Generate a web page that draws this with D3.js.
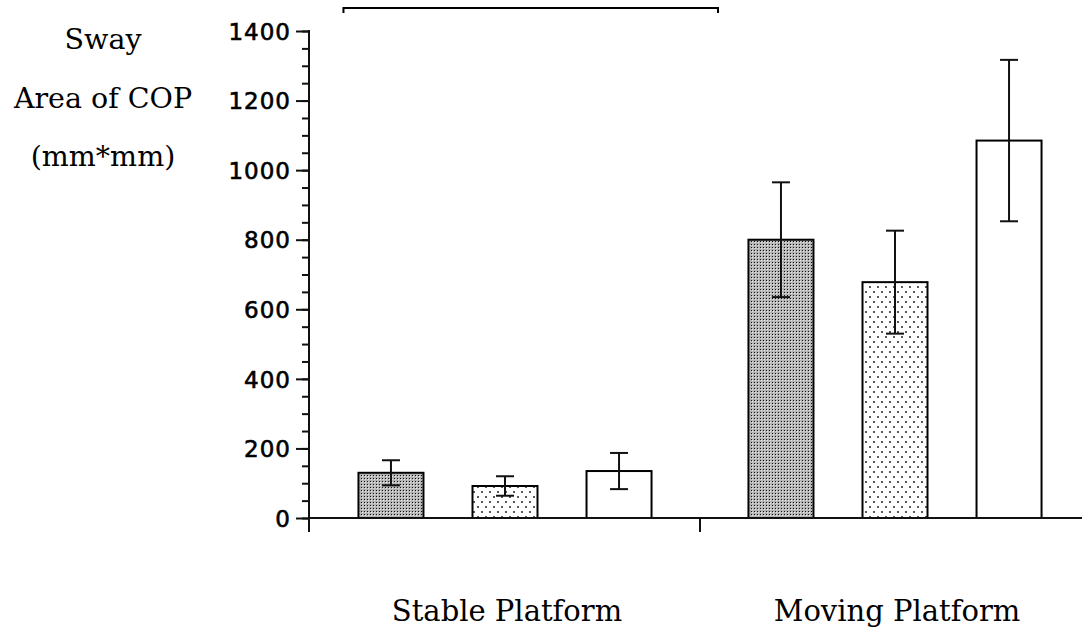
<!DOCTYPE html>
<html>
<head>
<meta charset="utf-8">
<script src="https://cdn.jsdelivr.net/npm/d3@7"></script>
<style>
  html, body { margin: 0; padding: 0; background: #fff; }
  svg { display: block; }
  .ylab { font-family: "DejaVu Serif", serif; font-size: 28.5px; fill: #000; }
  .glab { font-family: "DejaVu Serif", serif; font-size: 29px; fill: #000; }
  .tick text { font-family: "DejaVu Sans", sans-serif; font-size: 23px; fill: #000; stroke: #000; stroke-width: 0.6px; letter-spacing: 1px; }
</style>
</head>
<body>
<svg id="chart" width="1082" height="630"></svg>
<script>
// Sway area of centre of pressure, by platform condition
const groups = ["Stable Platform", "Moving Platform"];
const series = ["A", "B", "C"];
const stableMeans = [130, 92, 135];
const stableErrors = [36, 28, 52];
const movingMeans = [800, 678, 1085];
const movingErrors = [165, 148, 232];
const majorTicks = [0, 200, 400, 600, 800, 1000, 1200, 1400];
const minorTicks = d3.range(0, 1401, 50);
const yTitle = ["Sway", "Area of COP", "(mm*mm)"];

const rows = [];
groups.forEach((g, gi) => {
  const means = gi === 0 ? stableMeans : movingMeans;
  const errs = gi === 0 ? stableErrors : movingErrors;
  series.forEach((s, si) => rows.push({ group: g, series: s, mean: means[si], err: errs[si] }));
});

const svg = d3.select("#chart");
const y = d3.scaleLinear().domain([0, 1400]).range([518, 31]);
const x0 = d3.scaleBand().domain(groups).range([310, 1090]);
const x1 = d3.scaleBand().domain(series).range([0, x0.bandwidth()])
  .paddingInner(0.43).paddingOuter(0.425);
const axisX = 309;

// fill patterns
const defs = svg.append("defs");
const pA = defs.append("pattern").attr("id", "patA").attr("patternUnits", "userSpaceOnUse")
  .attr("width", 3).attr("height", 3);
pA.append("rect").attr("width", 3).attr("height", 3).attr("fill", "#fff");
pA.append("rect").attr("x", 0).attr("y", 0).attr("width", 3).attr("height", 1).attr("fill", "#b5b5b5");
pA.append("rect").attr("x", 0).attr("y", 0).attr("width", 1).attr("height", 3).attr("fill", "#b5b5b5");
pA.append("rect").attr("x", 1).attr("y", 1).attr("width", 1.3).attr("height", 1.3).attr("fill", "#111");

const pB = defs.append("pattern").attr("id", "patB").attr("patternUnits", "userSpaceOnUse")
  .attr("width", 8).attr("height", 10);
pB.append("rect").attr("width", 8).attr("height", 10).attr("fill", "#fff");
pB.append("circle").attr("cx", 2).attr("cy", 2).attr("r", 1).attr("fill", "#222");
pB.append("circle").attr("cx", 6).attr("cy", 7).attr("r", 1).attr("fill", "#222");

const fills = { A: "url(#patA)", B: "url(#patB)", C: "#fff" };

// bars
svg.append("g").selectAll("rect").data(rows).join("rect")
  .attr("x", d => x0(d.group) + x1(d.series))
  .attr("y", d => y(d.mean))
  .attr("width", x1.bandwidth())
  .attr("height", d => y(0) - y(d.mean))
  .attr("fill", d => fills[d.series])
  .attr("stroke", "#000").attr("stroke-width", 2);

// error bars
const eb = svg.append("g").attr("stroke", "#111").attr("stroke-width", 2);
const cx = d => x0(d.group) + x1(d.series) + x1.bandwidth() / 2;
const capHalf = 9;
eb.selectAll("line.v").data(rows).join("line").attr("class", "v")
  .attr("x1", cx).attr("x2", cx)
  .attr("y1", d => y(d.mean + d.err)).attr("y2", d => y(d.mean - d.err));
eb.selectAll("line.t").data(rows).join("line").attr("class", "t")
  .attr("x1", d => cx(d) - capHalf).attr("x2", d => cx(d) + capHalf)
  .attr("y1", d => y(d.mean + d.err)).attr("y2", d => y(d.mean + d.err));
eb.selectAll("line.b").data(rows).join("line").attr("class", "b")
  .attr("x1", d => cx(d) - capHalf).attr("x2", d => cx(d) + capHalf)
  .attr("y1", d => y(d.mean - d.err)).attr("y2", d => y(d.mean - d.err));

// y axis: minor then major ticks
const gMinor = svg.append("g").attr("transform", `translate(${axisX},0)`)
  .call(d3.axisLeft(y).tickValues(minorTicks).tickSize(7).tickFormat(""));
gMinor.select(".domain").remove();
gMinor.selectAll(".tick line").attr("stroke", "#111").attr("stroke-width", 2);

const gMajor = svg.append("g").attr("transform", `translate(${axisX},0)`)
  .call(d3.axisLeft(y).tickValues(majorTicks).tickSize(13).tickPadding(5).tickFormat(d3.format("d")));
gMajor.select(".domain").remove();
gMajor.selectAll(".tick line").attr("stroke", "#111").attr("stroke-width", 2);
gMajor.selectAll(".tick text").attr("dy", "0.36em");

// axis lines
const axes = svg.append("g").attr("stroke", "#111").attr("stroke-width", 2);
axes.append("line").attr("x1", axisX).attr("x2", axisX).attr("y1", y(1400) - 1).attr("y2", y(0) + 14);
axes.append("line").attr("x1", axisX).attr("x2", 1082).attr("y1", y(0)).attr("y2", y(0));
// group separator tick
axes.append("line")
  .attr("x1", x0(groups[1])).attr("x2", x0(groups[1]))
  .attr("y1", y(0)).attr("y2", y(0) + 14);

// bracket across the top
const bx1 = x0(groups[0]) + x1(series[0]) - 15;
const bx2 = x0(groups[1]) + 18;
svg.append("path")
  .attr("d", `M${bx1},13 V8 H${bx2} V13`)
  .attr("fill", "none").attr("stroke", "#000").attr("stroke-width", 2);

// group labels
svg.append("g").selectAll("text").data(groups).join("text")
  .attr("class", "glab")
  .attr("x", d => x0(d) + x0.bandwidth() / 2 + 2)
  .attr("y", 621)
  .attr("text-anchor", "middle")
  .text(d => d);

// y title
svg.append("g").selectAll("text").data(yTitle).join("text")
  .attr("class", "ylab")
  .attr("x", 103)
  .attr("y", (d, i) => 49 + i * 58.5)
  .attr("text-anchor", "middle")
  .text(d => d);
</script>
</body>
</html>
